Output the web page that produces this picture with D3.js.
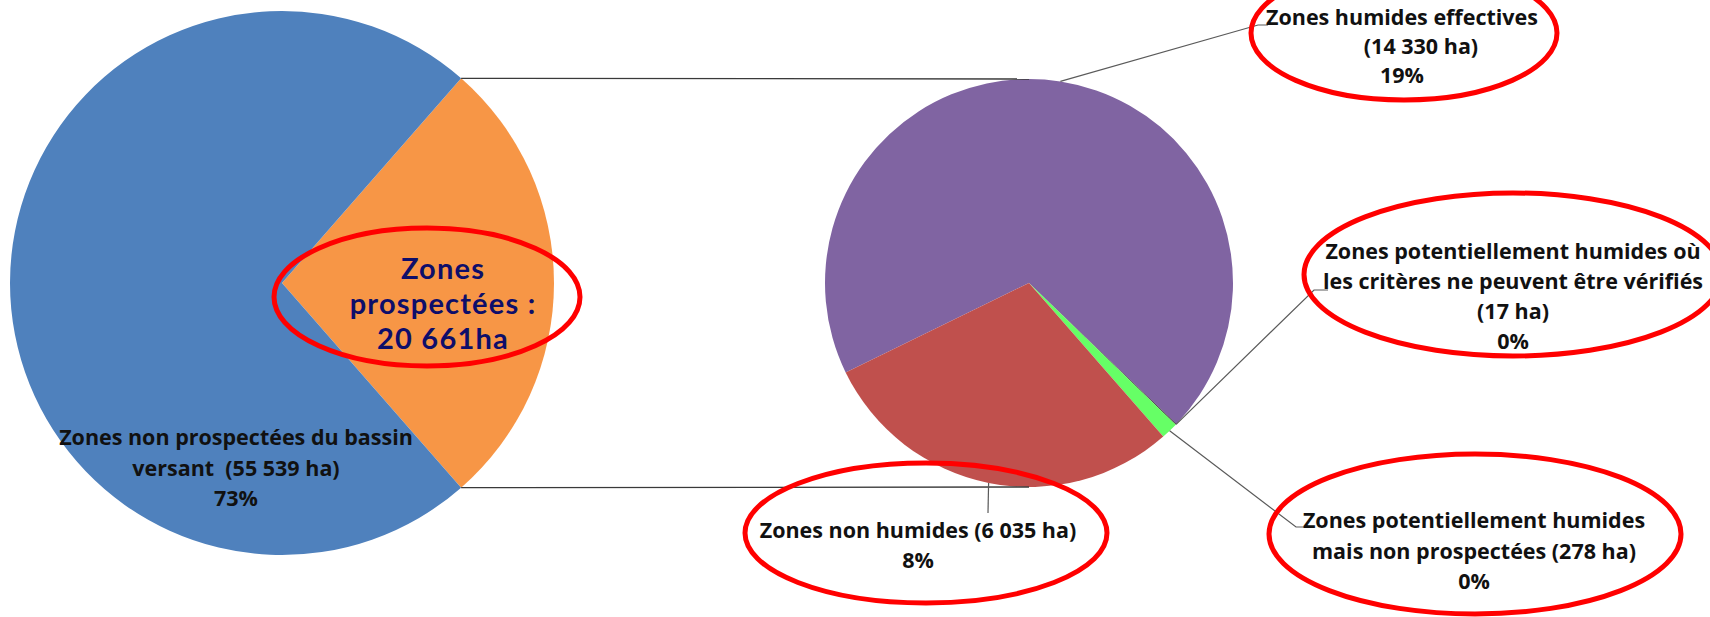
<!DOCTYPE html>
<html>
<head>
<meta charset="utf-8">
<script src="https://cdn.jsdelivr.net/npm/d3@7"></script>
<style>
  body { margin: 0; background: #fff; }
  svg { display: block; }
  text { white-space: pre; }
</style>
</head>
<body>
<div id="viscontainer"></div>
<script>
// main pie: whole catchment
const leftCategories = ["Zones prospectées", "Zones non prospectées du bassin versant"];
const leftValues = [20661, 55539];
const leftColors = ["#F79646", "#4F81BD"];

// second pie: detail of the prospected zones
const rightCategories = [
  "Zones humides effectives",
  "Zones potentiellement humides où les critères ne peuvent être vérifiés",
  "Zones potentiellement humides mais non prospectées",
  "Zones non humides",
];
const rightValues = [14330, 17, 278, 6035];
const rightColors = ["#8064A2", "#3C3C3C", "#66FF66", "#C0504D"];

// label texts, {ha} and {pct} are filled from the values
const leftLabelText = ["Zones non prospectées du bassin", "versant  ({ha} ha)", "{pct}"];
const centerLabelText = ["Zones", "prospectées :", "{ha}ha"];
const rightLabelText = [
  ["Zones humides effectives", "({ha} ha)", "{pct}"],
  ["Zones potentiellement humides où", "les critères ne peuvent être vérifiés", "({ha} ha)", "{pct}"],
  ["Zones potentiellement humides", "mais non prospectées ({ha} ha)", "{pct}"],
  ["Zones non humides ({ha} ha)", "{pct}"],
];

function makeVis() {
  const width = 1710;
  const height = 617;

  const left = { cx: 282, cy: 283, r: 272 };
  const right = { cx: 1029, cy: 283, r: 204 };
  const rightStart = 244; // degrees, clockwise from 12 o'clock

  // where the labels of the second pie sit
  const rightLabelLayout = [
    { x: 1402, y: 25, lh: 29, dx: [0, 19, 0], ell: [1404, 33, 153, 67], elbow: [1258, 25], end: [1268, 25] },
    { x: 1513, y: 259, lh: 30, dx: [0, 0, 0, 0], ell: [1513, 274.5, 209, 81.5], elbow: [1314, 290], end: [1328, 290] },
    { x: 1474, y: 528, lh: 30.5, dx: [0, 0, 0], ell: [1475, 534, 206, 80], elbow: [1296, 527], end: [1307, 527] },
    { x: 918, y: 538, lh: 30, dx: [0, 0], ell: [926, 533, 181, 70], elbow: [988, 513], end: [988, 513] },
  ];

  const total = d3.sum(leftValues);
  const locale = d3.formatLocale({ decimal: ",", thousands: " ", grouping: [3], currency: ["", ""] });
  const fmtHa = locale.format(",d");
  const fmtPct = d3.format(".0%");
  const fill = (s, v) => s.replace("{ha}", fmtHa(v)).replace("{pct}", fmtPct(v / total));

  const svg = d3.create("svg").attr("width", width).attr("height", height);
  viscontainer.append(svg.node());

  // left pie, the prospected slice centred on 3 o'clock
  const leftStart = Math.PI / 2 - Math.PI * (leftValues[0] / total);
  const leftPie = d3.pie().sort(null).startAngle(leftStart).endAngle(leftStart + 2 * Math.PI);
  const leftArcs = leftPie(leftValues);
  const leftArc = d3.arc().innerRadius(0).outerRadius(left.r);

  svg.append("g")
    .attr("transform", `translate(${left.cx},${left.cy})`)
    .selectAll("path")
    .data(leftArcs)
    .join("path")
    .attr("d", leftArc)
    .attr("fill", (d, i) => leftColors[i]);

  // right pie
  const a0 = (rightStart * Math.PI) / 180;
  const rightPie = d3.pie().sort(null).startAngle(a0).endAngle(a0 + 2 * Math.PI);
  const rightArcs = rightPie(rightValues);
  const rightArc = d3.arc().innerRadius(0).outerRadius(right.r);
  const edgeArc = d3.arc().innerRadius(right.r).outerRadius(right.r);

  svg.append("g")
    .attr("transform", `translate(${right.cx},${right.cy})`)
    .selectAll("path")
    .data(rightArcs)
    .join("path")
    .attr("d", rightArc)
    .attr("fill", (d, i) => rightColors[i]);

  // connector lines between the two pies
  const p = leftArcs[0];
  const ends = [p.startAngle, p.endAngle].map((a) => [
    left.cx + left.r * Math.sin(a),
    left.cy - left.r * Math.cos(a),
  ]);
  svg.append("g")
    .selectAll("line")
    .data([[ends[0], [right.cx, right.cy - right.r]], [ends[1], [right.cx, right.cy + right.r]]])
    .join("line")
    .attr("x1", (d) => d[0][0])
    .attr("y1", (d) => d[0][1])
    .attr("x2", (d) => d[1][0])
    .attr("y2", (d) => d[1][1])
    .attr("stroke", "#3a3a3a")
    .attr("stroke-width", 1.3);

  // leader lines
  const line = d3.line();
  svg.append("g")
    .selectAll("path")
    .data(rightArcs)
    .join("path")
    .attr("d", (d, i) => {
      const c = edgeArc.centroid(d);
      const L = rightLabelLayout[i];
      return line([[right.cx + c[0], right.cy + c[1]], L.elbow, L.end]);
    })
    .attr("fill", "none")
    .attr("stroke", "#5a5a5a")
    .attr("stroke-width", 1.2);

  const font = "'Open Sans', 'DejaVu Sans', sans-serif";

  // labels of the second pie
  rightLabelText.forEach((lines, i) => {
    const L = rightLabelLayout[i];
    svg.append("text")
      .attr("font-family", font)
      .attr("font-weight", 700)
      .attr("font-size", 21.5)
      .attr("fill", "#111")
      .attr("text-anchor", "middle")
      .selectAll("tspan")
      .data(lines)
      .join("tspan")
      .attr("x", (d, j) => L.x + L.dx[j])
      .attr("y", (d, j) => L.y + j * L.lh)
      .text((d) => fill(d, rightValues[i]));
  });

  // label of the non prospected slice
  svg.append("text")
    .attr("font-family", font)
    .attr("font-weight", 700)
    .attr("font-size", 21.5)
    .attr("fill", "#111")
    .attr("text-anchor", "middle")
    .selectAll("tspan")
    .data(leftLabelText)
    .join("tspan")
    .attr("x", 236)
    .attr("y", (d, j) => 445 + j * 30.5)
    .text((d) => fill(d, leftValues[1]));

  // big label of the prospected slice
  svg.append("text")
    .attr("font-family", "Lato, 'Open Sans', sans-serif")
    .attr("font-weight", 700)
    .attr("font-size", 29)
    .attr("letter-spacing", 1.2)
    .attr("fill", "#0E0E6A")
    .attr("text-anchor", "middle")
    .selectAll("tspan")
    .data(centerLabelText)
    .join("tspan")
    .attr("x", 443)
    .attr("y", (d, j) => 279 + j * 35)
    .text((d) => fill(d, leftValues[0]));

  // red circles drawn by hand on the original
  const ellipses = [[427, 297, 153, 69]].concat(rightLabelLayout.map((L) => L.ell));
  svg.append("g")
    .selectAll("ellipse")
    .data(ellipses)
    .join("ellipse")
    .attr("cx", (d) => d[0])
    .attr("cy", (d) => d[1])
    .attr("rx", (d) => d[2])
    .attr("ry", (d) => d[3])
    .attr("fill", "none")
    .attr("stroke", "#FF0000")
    .attr("stroke-width", 5);
}

makeVis();
</script>
</body>
</html>
